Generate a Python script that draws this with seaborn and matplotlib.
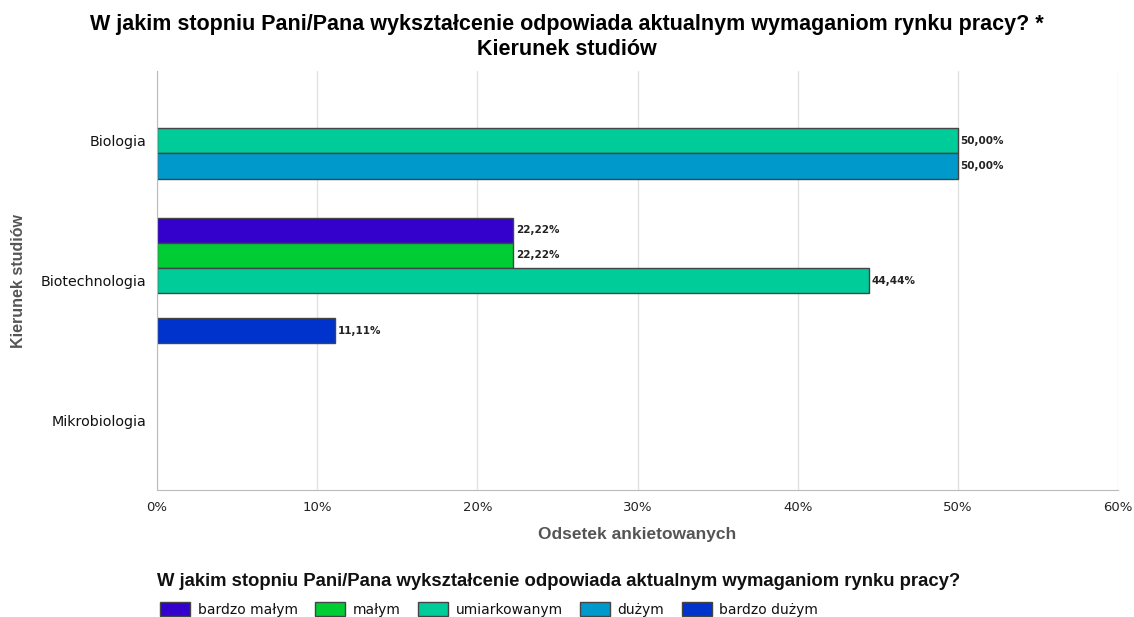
import matplotlib
matplotlib.use("Agg")
import matplotlib.pyplot as plt
import matplotlib.ticker as mticker
from matplotlib.patches import Patch
import seaborn as sns
import pandas as pd

categories = ["Biologia", "Biotechnologia", "Mikrobiologia"]
levels = ["bardzo małym", "małym", "umiarkowanym", "dużym", "bardzo dużym"]
colors = ["#3300CC", "#00CC33", "#00CC99", "#0099CC", "#0033CC"]

row_cat = ["Biologia", "Biologia", "Biotechnologia", "Biotechnologia", "Biotechnologia", "Biotechnologia"]
row_level = ["umiarkowanym", "dużym", "bardzo małym", "małym", "umiarkowanym", "bardzo dużym"]
row_value = [50.00, 50.00, 22.22, 22.22, 44.44, 11.11]

title = "W jakim stopniu Pani/Pana wykształcenie odpowiada aktualnym wymaganiom rynku pracy? *\nKierunek studiów"
legend_title = "W jakim stopniu Pani/Pana wykształcenie odpowiada aktualnym wymaganiom rynku pracy?"
xlabel = "Odsetek ankietowanych"
ylabel = "Kierunek studiów"

df = pd.DataFrame({"cat": row_cat, "level": row_level, "value": row_value})

sns.set_style("white")
plt.rcParams["font.family"] = ["DejaVu Sans"]

fig = plt.figure(figsize=(11.34, 6.17), dpi=100)
ax = fig.add_axes([157/1134, 1-490/617, (1118-157)/1134, (490-71)/617])

sns.barplot(data=df, x="value", y="cat", hue="level", order=categories, hue_order=levels,
            palette=colors, saturation=1, orient="h", width=0.9, errorbar=None, ax=ax,
            edgecolor="#444444", linewidth=1, legend=False)

for cont in ax.containers:
    labs = []
    for v in cont.datavalues:
        labs.append("" if pd.isna(v) else f"{v:.2f}".replace(".", ",") + "%")
    ax.bar_label(cont, labels=labs, padding=2, fontsize=7.5, color="#222222", fontweight="bold")

ax.set_xlim(0, 60)
ax.set_ylim(2.5, -0.5)
ax.xaxis.set_major_locator(mticker.MultipleLocator(10))
ax.xaxis.set_major_formatter(mticker.FuncFormatter(lambda x, p: f"{x:.0f}%"))
ax.grid(axis="x", color="#e3e3e3", linewidth=1)
ax.set_axisbelow(True)
for s in ["top", "right"]:
    ax.spines[s].set_visible(False)
for s in ["left", "bottom"]:
    ax.spines[s].set_color("#bbbbbb")
ax.tick_params(axis="x", length=5, color="#bbbbbb", labelsize=9.5, labelcolor="#222222", pad=3)
ax.tick_params(axis="y", length=0, labelsize=10.3, pad=8, labelcolor="#111111")
ax.set_xlabel(xlabel, fontsize=12.5, fontweight="bold", color="#555555",
              family=["Liberation Sans"], labelpad=9)
ax.set_ylabel(ylabel, fontsize=11.5, fontweight="bold", color="#555555",
              family=["Liberation Sans"], labelpad=10)

fig.text(0.5, 1-37/617, title, ha="center", va="center", fontsize=15.5, fontweight="bold",
         family=["Liberation Sans"], linespacing=1.2, color="black")

fig.text(157/1134, 1-582/617, legend_title, ha="left", va="center", fontsize=13.3,
         fontweight="bold", family=["Liberation Sans"], color="#111111")

handles = [Patch(facecolor=c, edgecolor="#444444", label=l) for c, l in zip(colors, levels)]
leg = fig.legend(handles=handles, loc="center left", bbox_to_anchor=(160/1134, 1-609.5/617),
                 ncol=5, frameon=False, fontsize=10,
                 handlelength=2.16, handleheight=1.15, columnspacing=1.25, handletextpad=0.55,
                 borderaxespad=0, borderpad=0)
for t in leg.get_texts():
    t.set_color("#111111")

fig.savefig("out.png", dpi=100, facecolor="white")
